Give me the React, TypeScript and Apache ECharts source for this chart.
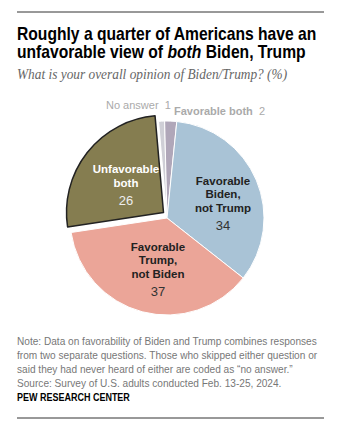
import React, { useEffect, useRef } from "react";
import * as echarts from "echarts";

const categories = [
  "No answer",
  "Favorable both",
  "Favorable Biden, not Trump",
  "Favorable Trump, not Biden",
  "Unfavorable both",
];
const labelLines = [
  ["No answer"],
  ["Favorable both"],
  ["Favorable", "Biden,", "not Trump"],
  ["Favorable", "Trump,", "not Biden"],
  ["Unfavorable", "both"],
];
const values = [1, 2, 34, 37, 26];
const colors = ["#cfcfd6", "#b0a7b9", "#a9c3d6", "#eba598", "#857d50"];
const explodedIndex = 4;

const titleLines = [
  "Roughly a quarter of Americans have an",
  "unfavorable view of ",
];
const subtitle = "What is your overall opinion of Biden/Trump? (%)";
const noteLines = [
  "Note: Data on favorability of Biden and Trump combines responses",
  "from two separate questions. Those who skipped either question or",
  "said they had never heard of either are coded as \u201cno answer.\u201d",
  "Source: Survey of U.S. adults conducted Feb. 13-25, 2024.",
];
const sourceLabel = "PEW RESEARCH CENTER";

export default function App() {
  const ref = useRef<HTMLDivElement>(null);
  useEffect(() => {
    document.body.style.margin = "0";
    const chart = echarts.init(ref.current!, null, { renderer: "svg" });
    const titleFont = "'Liberation Sans', Arial, sans-serif";
    const noteFont = "'Liberation Sans', Arial, sans-serif";

    const labelFormatter = (p: any) => {
      const i = p.dataIndex;
      if (i < 2) return `{s${i}|${labelLines[i].join(" ")}}{v${i}|  ${values[i]}}`;
      const c = i === explodedIndex ? "w" : "d";
      return labelLines[i].map((l) => `{${c}|${l}}`).join("\n") + `\n{${c}v|${values[i]}}`;
    };
    const rich = {
      d: { fontFamily: noteFont, fontWeight: "bold", fontSize: 11.5, color: "#222", lineHeight: 13.5, align: "center" },
      dv: { fontFamily: noteFont, fontSize: 13, color: "#333", lineHeight: 22, align: "center" },
      w: { fontFamily: noteFont, fontWeight: "bold", fontSize: 11.5, color: "#fff", lineHeight: 13.5, align: "center" },
      wv: { fontFamily: noteFont, fontSize: 13, color: "#eee", lineHeight: 22, align: "center" },
      s0: { fontFamily: noteFont, fontSize: 11, color: "#aaa" },
      v0: { fontFamily: noteFont, fontSize: 11, color: "#aaa" },
      s1: { fontFamily: noteFont, fontWeight: "bold", fontSize: 11, color: "#aaa" },
      v1: { fontFamily: noteFont, fontSize: 11, color: "#aaa" },
    };

    const mainData = values.map((v, i) => ({
      name: categories[i],
      value: v,
      itemStyle:
        i === explodedIndex
          ? { color: "transparent", borderWidth: 0 }
          : { color: colors[i], borderColor: "#ffffff", borderWidth: 1 },
      label: i === explodedIndex ? { show: false } : undefined,
    }));
    const explodedData = values.map((v, i) => ({
      name: categories[i],
      value: v,
      itemStyle:
        i === explodedIndex
          ? { color: colors[i], borderColor: "#222222", borderWidth: 1.5 }
          : { color: "transparent", borderWidth: 0 },
      label: i === explodedIndex ? undefined : { show: false },
    }));

    const option: any = {
      animation: false,
      graphic: [
        { type: "line", shape: { x1: 17, y1: 12, x2: 324, y2: 12 }, style: { stroke: "#333", lineWidth: 1 } },
        {
          type: "text", x: 17, y: 24.5, scaleX: 0.846,
          style: { text: titleLines[0], font: `bold 18.5px ${titleFont}`, fill: "#000" },
        },
        {
          type: "text", x: 17, y: 42, scaleX: 0.846,
          style: {
            text: "{a|" + titleLines[1] + "}{b|both}{a| Biden, Trump}",
            rich: {
              a: { font: `bold 18.5px ${titleFont}`, fill: "#000" },
              b: { font: `italic bold 18.5px ${titleFont}`, fill: "#000" },
            },
          },
        },
        {
          type: "text", x: 17, y: 66.5, scaleX: 0.89,
          style: { text: subtitle, font: "italic 15px 'Liberation Serif', serif", fill: "#666" },
        },
        ...noteLines.map((t, i) => ({
          type: "text", x: 17, y: 335 + i * 14, scaleX: 0.92,
          style: { text: t, font: `11px ${noteFont}`, fill: "#777" },
        })),
        {
          type: "text", x: 17, y: 392, scaleX: 0.9,
          style: { text: sourceLabel, font: `bold 10px ${noteFont}`, fill: "#000" },
        },
        { type: "line", shape: { x1: 17, y1: 418, x2: 324, y2: 418 }, style: { stroke: "#333", lineWidth: 1 } },
      ],
      series: [
        {
          type: "pie",
          center: [167, 218],
          radius: 97,
          startAngle: 95,
          clockwise: true,
          data: mainData,
          label: { show: true, position: "inside", formatter: labelFormatter, rich },
          labelLine: { show: false },
          labelLayout: (p: any) => {
            const i = p.dataIndex;
            if (i === 0) return { x: 106, y: 105, align: "left", verticalAlign: "middle" };
            if (i === 1) return { x: 174, y: 111, align: "left", verticalAlign: "middle" };
            if (i === 2) return { x: 223, y: 205, align: "center", verticalAlign: "middle" };
            return { x: 158, y: 271, align: "center", verticalAlign: "middle" };
          },
          emphasis: { disabled: true },
        },
        {
          type: "pie",
          center: [163.5, 212.5],
          radius: 97,
          startAngle: 95,
          clockwise: true,
          data: explodedData,
          label: { show: true, position: "inside", formatter: labelFormatter, rich },
          labelLine: { show: false },
          labelLayout: () => ({ x: 126, y: 187, align: "center", verticalAlign: "middle" }),
          emphasis: { disabled: true },
        },
      ],
    };
    chart.setOption(option);
    return () => chart.dispose();
  }, []);
  return <div ref={ref} style={{ width: 362, height: 432 }} />;
}
